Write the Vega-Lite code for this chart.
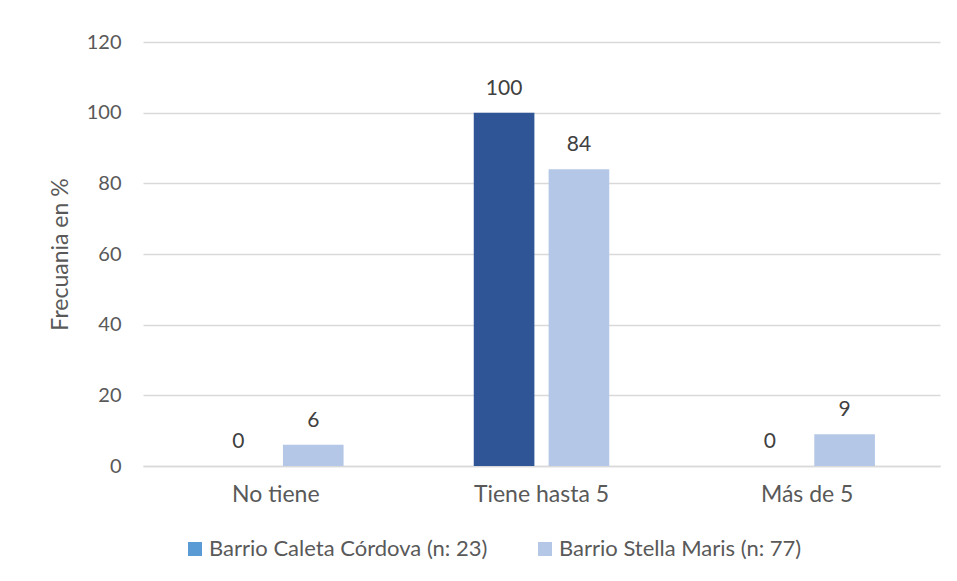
{
  "$schema": "https://vega.github.io/schema/vega-lite/v6.json",
  "autosize": {"type": "none"},
  "width": 797,
  "height": 424,
  "padding": {"left": 143, "top": 42, "right": 17, "bottom": 115},
  "background": "white",
  "config": {
    "font": "Lato",
    "view": {"stroke": null},
    "axis": {"labelFont": "Lato", "titleFont": "Lato", "labelColor": "#595959", "titleColor": "#595959"},
    "legend": {"labelFont": "Lato"}
  },
  "data": {
    "values": [
      {"categoria": "No tiene", "barrio": "Barrio Caleta Córdova (n: 23)", "valor": 0},
      {"categoria": "No tiene", "barrio": "Barrio Stella Maris (n: 77)", "valor": 6},
      {"categoria": "Tiene hasta 5", "barrio": "Barrio Caleta Córdova (n: 23)", "valor": 100},
      {"categoria": "Tiene hasta 5", "barrio": "Barrio Stella Maris (n: 77)", "valor": 84},
      {"categoria": "Más de 5", "barrio": "Barrio Caleta Córdova (n: 23)", "valor": 0},
      {"categoria": "Más de 5", "barrio": "Barrio Stella Maris (n: 77)", "valor": 9}
    ]
  },
  "encoding": {
    "x": {
      "field": "categoria",
      "type": "nominal",
      "sort": ["No tiene", "Tiene hasta 5", "Más de 5"],
      "scale": {"paddingInner": 0.49, "paddingOuter": 0.245},
      "axis": {
        "title": null,
        "labelAngle": 0,
        "labelFontSize": 23,
        "labelPadding": 17,
        "ticks": false,
        "domainColor": "#D9D9D9",
        "domainWidth": 1.5
      }
    },
    "xOffset": {
      "field": "barrio",
      "type": "nominal",
      "scale": {"paddingInner": 0.19, "paddingOuter": 0}
    },
    "y": {
      "field": "valor",
      "type": "quantitative",
      "scale": {"domain": [0, 120]},
      "axis": {
        "title": "Frecuania en %",
        "titleFontSize": 23,
        "titleFontWeight": "normal",
        "titlePadding": 14,
        "labelFontSize": 20,
        "labelPadding": 22,
        "values": [0, 20, 40, 60, 80, 100, 120],
        "domain": false,
        "ticks": false,
        "gridColor": "#D9D9D9",
        "gridWidth": 1.5
      }
    }
  },
  "layer": [
    {
      "mark": {"type": "bar"},
      "encoding": {
        "color": {
          "field": "barrio",
          "type": "nominal",
          "condition": {"test": "datum.barrio === 'Barrio Caleta Córdova (n: 23)'", "value": "#2F5597"},
          "scale": {
            "domain": ["Barrio Caleta Córdova (n: 23)", "Barrio Stella Maris (n: 77)"],
            "range": ["#5B9BD5", "#B4C7E7"]
          },
          "legend": {
            "title": null,
            "orient": "none",
            "legendX": 41,
            "legendY": 496,
            "direction": "horizontal",
            "symbolType": "square",
            "symbolSize": 196,
            "symbolStrokeWidth": 0,
            "labelFontSize": 22,
            "labelLimit": 500,
            "labelColor": "#595959",
            "labelOffset": 3,
            "columnPadding": 46
          }
        }
      }
    },
    {
      "mark": {"type": "text", "baseline": "alphabetic", "dy": -18, "fontSize": 21, "color": "#404040"},
      "encoding": {
        "text": {"field": "valor", "type": "quantitative"}
      }
    }
  ]
}
